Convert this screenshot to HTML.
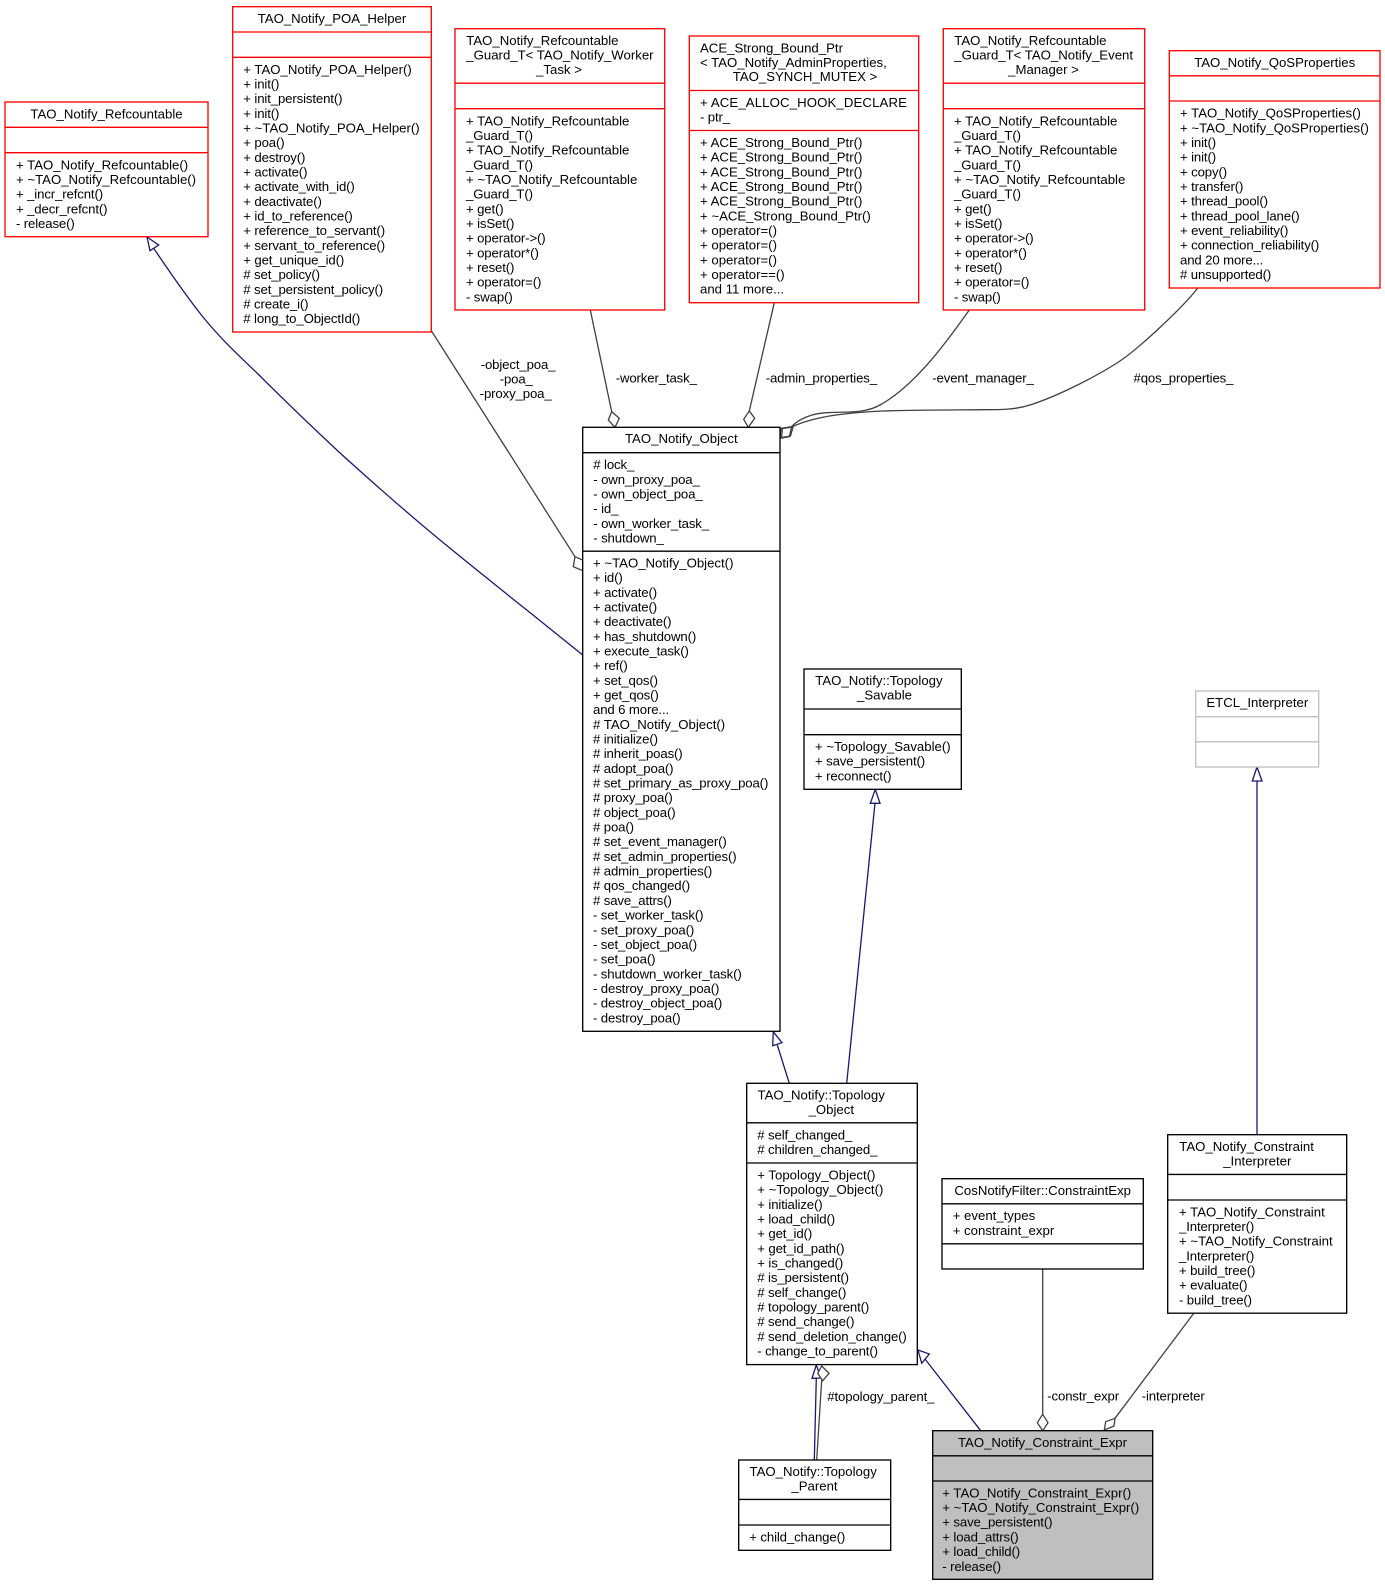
<!DOCTYPE html>
<html><head><meta charset="utf-8"><style>
html,body{margin:0;padding:0;background:#fff}
svg{display:block}
text{font-family:"Liberation Sans",sans-serif;font-size:13.2px;fill:#000;letter-spacing:-.13px}
.c{letter-spacing:0}
.u{letter-spacing:.12px}
.m{text-anchor:middle;letter-spacing:0}
.b rect{fill:#fff;stroke:#000;stroke-width:1.33}
.r rect{stroke:#f00}
.b path{stroke-width:1.33;stroke:#000;fill:none}
.r path{stroke:#f00}
.g rect,.g path{stroke:#bfbfbf}
.e{fill:none;stroke:#404040;stroke-width:1.3}
.n{fill:none;stroke:#191970;stroke-width:1.3}
.d{fill:#fff;stroke:#404040;stroke-width:1.3}
.a{fill:#fff;stroke:#191970;stroke-width:1.3}
</style></head><body>
<svg width="1385" height="1587" viewBox="0 0 1385 1587" xmlns="http://www.w3.org/2000/svg">
<rect width="1385" height="1587" fill="#fff"/>

<!-- edges -->
<path class="n" d="M153.5,248 C169,271 186,296 203,317 C220,338 238,355 257,373 C280,396 310,425 340,453 C371,481 400,507 440,540 C480,573 535.7,617 582.7,655"/>
<polygon class="a" points="147,237 158.7,245 150,250.7"/>
<path class="e" d="M431.5,331 L575,556.7"/>
<polygon class="d" points="575,556.7 573.3,566.7 582.7,570.7 582.7,560"/>
<path class="e" d="M590.3,310 L611.7,411.7"/>
<polygon class="d" points="611.7,411.7 608.3,420 615,427.3 619.3,418.3"/>
<path class="e" d="M774.3,302.7 L749.3,411"/>
<polygon class="d" points="749.3,411 743.7,419.3 748.3,427.3 754.7,418.3"/>
<path class="e" d="M969.3,310 C952,334 918,384 880,405 C870,410.5 860,411.5 850,412 C835,412.5 822,412 812,415 C803,418 797,421 791.5,426.7"/>
<path class="e" d="M1197.7,288 C1185,305 1139,349 1117,363 C1095,377 1058,396 1030,405 C1015,409.8 1000,409.7 983,409.7 C950,410 915,410 883,411 C860,412 835,414 815,419 C805,421.5 798,424 791.5,427"/>
<polygon class="d" points="791.7,426.7 781,428.3 780,438.3 789.3,436.7"/>
<polygon class="d" style="fill:none" points="793,427 782.5,428.5 781.5,437.5 790.5,436"/>
<path class="n" d="M777.3,1045 L789.3,1083.3"/>
<polygon class="a" points="773.3,1031.7 772.7,1045.7 782,1042.7"/>
<path class="n" d="M875,803 L846.7,1083.3"/>
<polygon class="a" points="875.3,789.4 870.3,803.3 880,803.3"/>
<path class="n" d="M1257,781 L1257,1134.7"/>
<polygon class="a" points="1257,767 1252.3,781 1262,781"/>
<path class="n" d="M816.3,1378 L814.3,1460"/>
<polygon class="a" points="816.3,1365 812,1378.3 821,1378"/>
<path class="e" d="M821.7,1380 L816.7,1460"/>
<polygon class="d" points="821.7,1366 817.7,1373.3 822.7,1380.7 829,1373.3"/>
<path class="n" d="M925,1359 L980.7,1430.7"/>
<polygon class="a" points="918,1350 929.3,1354 921.7,1363.3"/>
<path class="e" d="M1042.7,1269 L1042.7,1414.3"/>
<polygon class="d" points="1042.7,1414.3 1037.3,1422.7 1042.7,1430.7 1048,1422.7"/>
<path class="e" d="M1194,1313 L1115,1418.3"/>
<polygon class="d" points="1115,1418.3 1105.7,1421.7 1104.3,1430 1114,1426"/>

<!-- edge labels -->
<text x="480.7" y="369">-object_poa_</text>
<text x="499.7" y="383.5">-poa_</text>
<text x="479.7" y="398">-proxy_poa_</text>
<text x="615.7" y="382.7">-worker_task_</text>
<text x="765.7" y="382.7">-admin_properties_</text>
<text x="932.3" y="382.7">-event_manager_</text>
<text x="1133.5" y="382.7">#qos_properties_</text>
<text x="827.3" y="1401">#topology_parent_</text>
<text x="1047.3" y="1400.7">-constr_expr</text>
<text x="1141.7" y="1400.7">-interpreter</text>

<!-- TAO_Notify_Refcountable -->
<g class="b r"><rect x="5" y="102" width="203" height="134.7"/><path d="M5,127.3H208M5,152.7H208"/></g>
<text x="106.5" y="118.5" class="m">TAO_Notify_Refcountable</text>
<text y="169.3"><tspan x="16" class="c">+ TAO_Notify_Refcountable()</tspan><tspan x="16" dy="14.67" class="c">+ ~TAO_Notify_Refcountable()</tspan><tspan x="16" dy="14.67">+ _incr_refcnt()</tspan><tspan x="16" dy="14.67">+ _decr_refcnt()</tspan><tspan x="16" dy="14.67">- release()</tspan></text>

<!-- TAO_Notify_POA_Helper -->
<g class="b r"><rect x="232.7" y="6.7" width="198.6" height="325.3"/><path d="M232.7,32H431.3M232.7,57.3H431.3"/></g>
<text x="332" y="23.2" class="m">TAO_Notify_POA_Helper</text>
<text y="73.8"><tspan x="243.3" class="c">+ TAO_Notify_POA_Helper()</tspan><tspan x="243.3" dy="14.67">+ init()</tspan><tspan x="243.3" dy="14.67">+ init_persistent()</tspan><tspan x="243.3" dy="14.67">+ init()</tspan><tspan x="243.3" dy="14.67" class="c">+ ~TAO_Notify_POA_Helper()</tspan><tspan x="243.3" dy="14.67">+ poa()</tspan><tspan x="243.3" dy="14.67">+ destroy()</tspan><tspan x="243.3" dy="14.67">+ activate()</tspan><tspan x="243.3" dy="14.67">+ activate_with_id()</tspan><tspan x="243.3" dy="14.67">+ deactivate()</tspan><tspan x="243.3" dy="14.67">+ id_to_reference()</tspan><tspan x="243.3" dy="14.67">+ reference_to_servant()</tspan><tspan x="243.3" dy="14.67">+ servant_to_reference()</tspan><tspan x="243.3" dy="14.67">+ get_unique_id()</tspan><tspan x="243.3" dy="14.67"># set_policy()</tspan><tspan x="243.3" dy="14.67"># set_persistent_policy()</tspan><tspan x="243.3" dy="14.67"># create_i()</tspan><tspan x="243.3" dy="14.67"># long_to_ObjectId()</tspan></text>

<!-- Guard worker -->
<g class="b r"><rect x="455" y="28.7" width="209.7" height="281.3"/><path d="M455,83.2H664.7M455,108.7H664.7"/></g>
<text y="45.2" class="c"><tspan x="466.3" class="c">TAO_Notify_Refcountable</tspan><tspan x="466.3" dy="14.3" class="c">_Guard_T&lt; TAO_Notify_Worker</tspan></text>
<text x="559" y="74" class="m">_Task &gt;</text>
<text y="125.3"><tspan x="466" class="c">+ TAO_Notify_Refcountable</tspan><tspan x="466" dy="14.67">_Guard_T()</tspan><tspan x="466" dy="14.67" class="c">+ TAO_Notify_Refcountable</tspan><tspan x="466" dy="14.67">_Guard_T()</tspan><tspan x="466" dy="14.67" class="c">+ ~TAO_Notify_Refcountable</tspan><tspan x="466" dy="14.67">_Guard_T()</tspan><tspan x="466" dy="14.67">+ get()</tspan><tspan x="466" dy="14.67">+ isSet()</tspan><tspan x="466" dy="14.67">+ operator-&gt;()</tspan><tspan x="466" dy="14.67">+ operator*()</tspan><tspan x="466" dy="14.67">+ reset()</tspan><tspan x="466" dy="14.67">+ operator=()</tspan><tspan x="466" dy="14.67">- swap()</tspan></text>

<!-- ACE_Strong_Bound_Ptr -->
<g class="b r"><rect x="689.3" y="36" width="229.4" height="266.7"/><path d="M689.3,90.5H918.7M689.3,130.5H918.7"/></g>
<text y="52.5"><tspan x="700" class="c">ACE_Strong_Bound_Ptr</tspan><tspan x="700" dy="14.3" class="c">&lt; TAO_Notify_AdminProperties,</tspan></text>
<text x="805" y="81.2" class="m">TAO_SYNCH_MUTEX &gt;</text>
<text y="107"><tspan x="700" class="u">+ ACE_ALLOC_HOOK_DECLARE</tspan><tspan x="700" dy="14.67">- ptr_</tspan></text>
<text y="147" class="c"><tspan x="700" class="c">+ ACE_Strong_Bound_Ptr()</tspan><tspan x="700" dy="14.67" class="c">+ ACE_Strong_Bound_Ptr()</tspan><tspan x="700" dy="14.67" class="c">+ ACE_Strong_Bound_Ptr()</tspan><tspan x="700" dy="14.67" class="c">+ ACE_Strong_Bound_Ptr()</tspan><tspan x="700" dy="14.67" class="c">+ ACE_Strong_Bound_Ptr()</tspan><tspan x="700" dy="14.67" class="c">+ ~ACE_Strong_Bound_Ptr()</tspan><tspan x="700" dy="14.67">+ operator=()</tspan><tspan x="700" dy="14.67">+ operator=()</tspan><tspan x="700" dy="14.67">+ operator=()</tspan><tspan x="700" dy="14.67">+ operator==()</tspan><tspan x="700" dy="14.67">and 11 more...</tspan></text>

<!-- Guard event -->
<g class="b r"><rect x="943.3" y="28.7" width="201.4" height="281.3"/><path d="M943.3,83.2H1144.7M943.3,108.7H1144.7"/></g>
<text y="45.2"><tspan x="954.3" class="c">TAO_Notify_Refcountable</tspan><tspan x="954.3" dy="14.3" class="c">_Guard_T&lt; TAO_Notify_Event</tspan></text>
<text x="1043.5" y="74" class="m">_Manager &gt;</text>
<text y="125.3"><tspan x="954" class="c">+ TAO_Notify_Refcountable</tspan><tspan x="954" dy="14.67">_Guard_T()</tspan><tspan x="954" dy="14.67" class="c">+ TAO_Notify_Refcountable</tspan><tspan x="954" dy="14.67">_Guard_T()</tspan><tspan x="954" dy="14.67" class="c">+ ~TAO_Notify_Refcountable</tspan><tspan x="954" dy="14.67">_Guard_T()</tspan><tspan x="954" dy="14.67">+ get()</tspan><tspan x="954" dy="14.67">+ isSet()</tspan><tspan x="954" dy="14.67">+ operator-&gt;()</tspan><tspan x="954" dy="14.67">+ operator*()</tspan><tspan x="954" dy="14.67">+ reset()</tspan><tspan x="954" dy="14.67">+ operator=()</tspan><tspan x="954" dy="14.67">- swap()</tspan></text>

<!-- QoSProperties -->
<g class="b r"><rect x="1169.3" y="50.7" width="210.7" height="237.3"/><path d="M1169.3,75.8H1380M1169.3,101H1380"/></g>
<text x="1274.7" y="67.2" class="m">TAO_Notify_QoSProperties</text>
<text y="117.6"><tspan x="1180" class="c">+ TAO_Notify_QoSProperties()</tspan><tspan x="1180" dy="14.67" class="c">+ ~TAO_Notify_QoSProperties()</tspan><tspan x="1180" dy="14.67">+ init()</tspan><tspan x="1180" dy="14.67">+ init()</tspan><tspan x="1180" dy="14.67">+ copy()</tspan><tspan x="1180" dy="14.67">+ transfer()</tspan><tspan x="1180" dy="14.67">+ thread_pool()</tspan><tspan x="1180" dy="14.67">+ thread_pool_lane()</tspan><tspan x="1180" dy="14.67">+ event_reliability()</tspan><tspan x="1180" dy="14.67">+ connection_reliability()</tspan><tspan x="1180" dy="14.67">and 20 more...</tspan><tspan x="1180" dy="14.67"># unsupported()</tspan></text>

<!-- TAO_Notify_Object -->
<g class="b"><rect x="582.7" y="427.3" width="197.3" height="604"/><path d="M582.7,452.7H780M582.7,551.2H780"/></g>
<text x="681.3" y="443.2" class="m">TAO_Notify_Object</text>
<text y="469.2"><tspan x="593.3"># lock_</tspan><tspan x="593.3" dy="14.67">- own_proxy_poa_</tspan><tspan x="593.3" dy="14.67">- own_object_poa_</tspan><tspan x="593.3" dy="14.67">- id_</tspan><tspan x="593.3" dy="14.67">- own_worker_task_</tspan><tspan x="593.3" dy="14.67">- shutdown_</tspan></text>
<text y="567.5"><tspan x="593" class="c">+ ~TAO_Notify_Object()</tspan><tspan x="593" dy="14.67">+ id()</tspan><tspan x="593" dy="14.67">+ activate()</tspan><tspan x="593" dy="14.67">+ activate()</tspan><tspan x="593" dy="14.67">+ deactivate()</tspan><tspan x="593" dy="14.67">+ has_shutdown()</tspan><tspan x="593" dy="14.67">+ execute_task()</tspan><tspan x="593" dy="14.67">+ ref()</tspan><tspan x="593" dy="14.67">+ set_qos()</tspan><tspan x="593" dy="14.67">+ get_qos()</tspan><tspan x="593" dy="14.67">and 6 more...</tspan><tspan x="593" dy="14.67" class="c"># TAO_Notify_Object()</tspan><tspan x="593" dy="14.67"># initialize()</tspan><tspan x="593" dy="14.67"># inherit_poas()</tspan><tspan x="593" dy="14.67"># adopt_poa()</tspan><tspan x="593" dy="14.67"># set_primary_as_proxy_poa()</tspan><tspan x="593" dy="14.67"># proxy_poa()</tspan><tspan x="593" dy="14.67"># object_poa()</tspan><tspan x="593" dy="14.67"># poa()</tspan><tspan x="593" dy="14.67"># set_event_manager()</tspan><tspan x="593" dy="14.67"># set_admin_properties()</tspan><tspan x="593" dy="14.67"># admin_properties()</tspan><tspan x="593" dy="14.67"># qos_changed()</tspan><tspan x="593" dy="14.67"># save_attrs()</tspan><tspan x="593" dy="14.67">- set_worker_task()</tspan><tspan x="593" dy="14.67">- set_proxy_poa()</tspan><tspan x="593" dy="14.67">- set_object_poa()</tspan><tspan x="593" dy="14.67">- set_poa()</tspan><tspan x="593" dy="14.67">- shutdown_worker_task()</tspan><tspan x="593" dy="14.67">- destroy_proxy_poa()</tspan><tspan x="593" dy="14.67">- destroy_object_poa()</tspan><tspan x="593" dy="14.67">- destroy_poa()</tspan></text>

<!-- Topology_Savable -->
<g class="b"><rect x="804" y="669" width="157.3" height="120.3"/><path d="M804,709H961.3M804,734.7H961.3"/></g>
<text x="815.3" y="685.2" class="c">TAO_Notify::Topology</text>
<text x="884.5" y="699.7" class="m">_Savable</text>
<text y="751"><tspan x="815" class="c">+ ~Topology_Savable()</tspan><tspan x="815" dy="14.67">+ save_persistent()</tspan><tspan x="815" dy="14.67">+ reconnect()</tspan></text>

<!-- ETCL_Interpreter -->
<g class="b g"><rect x="1195.7" y="691" width="123" height="76"/><path d="M1195.7,716.7H1318.7M1195.7,741.8H1318.7"/></g>
<text x="1257.3" y="707.2" class="m">ETCL_Interpreter</text>

<!-- Topology_Object -->
<g class="b"><rect x="746.7" y="1083.3" width="170.6" height="281.3"/><path d="M746.7,1122.8H917.3M746.7,1163H917.3"/></g>
<text x="757.5" y="1099.5" class="c">TAO_Notify::Topology</text>
<text x="831.3" y="1114" class="m">_Object</text>
<text y="1139.3"><tspan x="757.3"># self_changed_</tspan><tspan x="757.3" dy="14.67"># children_changed_</tspan></text>
<text y="1179.5"><tspan x="757.3" class="c">+ Topology_Object()</tspan><tspan x="757.3" dy="14.67" class="c">+ ~Topology_Object()</tspan><tspan x="757.3" dy="14.67">+ initialize()</tspan><tspan x="757.3" dy="14.67">+ load_child()</tspan><tspan x="757.3" dy="14.67">+ get_id()</tspan><tspan x="757.3" dy="14.67">+ get_id_path()</tspan><tspan x="757.3" dy="14.67">+ is_changed()</tspan><tspan x="757.3" dy="14.67"># is_persistent()</tspan><tspan x="757.3" dy="14.67"># self_change()</tspan><tspan x="757.3" dy="14.67"># topology_parent()</tspan><tspan x="757.3" dy="14.67"># send_change()</tspan><tspan x="757.3" dy="14.67"># send_deletion_change()</tspan><tspan x="757.3" dy="14.67">- change_to_parent()</tspan></text>

<!-- ConstraintExp -->
<g class="b"><rect x="942" y="1178.7" width="201.3" height="90.3"/><path d="M942,1203.8H1143.3M942,1243.8H1143.3"/></g>
<text x="1042.7" y="1195" class="m">CosNotifyFilter::ConstraintExp</text>
<text y="1220.2"><tspan x="952.7" class="c">+ event_types</tspan><tspan x="952.7" dy="14.67" class="c">+ constraint_expr</tspan></text>

<!-- Constraint_Interpreter -->
<g class="b"><rect x="1167.7" y="1134.7" width="179" height="178.5"/><path d="M1167.7,1174.4H1346.7M1167.7,1200H1346.7"/></g>
<text x="1179.3" y="1151" class="c">TAO_Notify_Constraint</text>
<text x="1257.3" y="1165.3" class="m">_Interpreter</text>
<text y="1216.3"><tspan x="1179" class="c">+ TAO_Notify_Constraint</tspan><tspan x="1179" dy="14.67">_Interpreter()</tspan><tspan x="1179" dy="14.67" class="c">+ ~TAO_Notify_Constraint</tspan><tspan x="1179" dy="14.67">_Interpreter()</tspan><tspan x="1179" dy="14.67">+ build_tree()</tspan><tspan x="1179" dy="14.67">+ evaluate()</tspan><tspan x="1179" dy="14.67">- build_tree()</tspan></text>

<!-- Topology_Parent -->
<g class="b"><rect x="738.7" y="1460" width="152" height="90.3"/><path d="M738.7,1499.4H890.7M738.7,1525H890.7"/></g>
<text x="749.5" y="1476.2" class="c">TAO_Notify::Topology</text>
<text x="814.5" y="1490.7" class="m">_Parent</text>
<text x="749.3" y="1541.4">+ child_change()</text>

<!-- Constraint_Expr -->
<g class="b"><rect x="932.7" y="1430.7" width="220" height="148.6" style="fill:#bfbfbf"/><path d="M932.7,1455.8H1152.7M932.7,1481H1152.7"/></g>
<text x="1042.5" y="1447" class="m">TAO_Notify_Constraint_Expr</text>
<text y="1497.4"><tspan x="942.3" class="c">+ TAO_Notify_Constraint_Expr()</tspan><tspan x="942.3" dy="14.67" class="c">+ ~TAO_Notify_Constraint_Expr()</tspan><tspan x="942.3" dy="14.67">+ save_persistent()</tspan><tspan x="942.3" dy="14.67">+ load_attrs()</tspan><tspan x="942.3" dy="14.67">+ load_child()</tspan><tspan x="942.3" dy="14.67">- release()</tspan></text>
</svg>
</body></html>
